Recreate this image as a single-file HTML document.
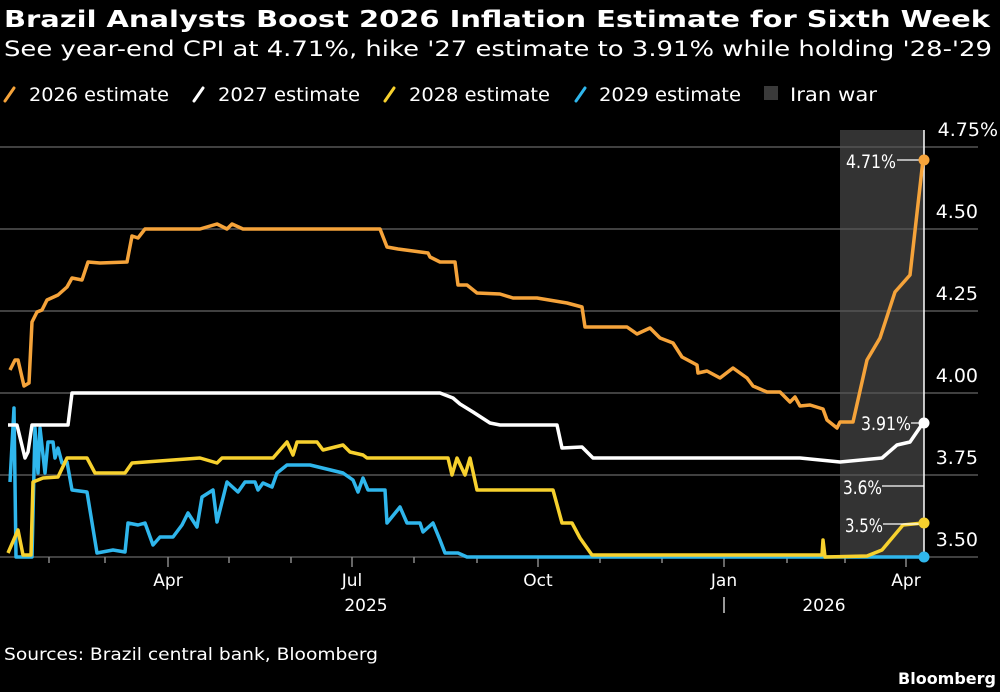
<!DOCTYPE html>
<html><head><meta charset="utf-8"><style>
html,body{margin:0;padding:0;background:#000;width:1000px;height:692px;overflow:hidden}
svg text{font-family:"DejaVu Sans","Liberation Sans",sans-serif;fill:#fff}
</style></head><body>
<svg width="1000" height="692" viewBox="0 0 1000 692" xmlns="http://www.w3.org/2000/svg">
<rect width="1000" height="692" fill="#000"/>
<text x="4" y="27" font-size="23" font-weight="bold" textLength="986" lengthAdjust="spacingAndGlyphs">Brazil Analysts Boost 2026 Inflation Estimate for Sixth Week</text>
<text x="4" y="56" font-size="21" textLength="988" lengthAdjust="spacingAndGlyphs">See year-end CPI at 4.71%, hike '27 estimate to 3.91% while holding '28-'29</text>
<g stroke-width="3" stroke-linecap="round">
<line x1="5" y1="101" x2="14" y2="88" stroke="#f5a33a"/>
<line x1="194" y1="101" x2="203" y2="88" stroke="#fff"/>
<line x1="385" y1="101" x2="394" y2="88" stroke="#f7d12e"/>
<line x1="576" y1="101" x2="585" y2="88" stroke="#2fb6ec"/>
</g>
<rect x="764" y="86" width="14" height="14" fill="#3a3a3a"/>
<g font-size="19">
<text x="29" y="101" textLength="140" lengthAdjust="spacingAndGlyphs">2026 estimate</text>
<text x="218" y="101" textLength="142" lengthAdjust="spacingAndGlyphs">2027 estimate</text>
<text x="409" y="101" textLength="141" lengthAdjust="spacingAndGlyphs">2028 estimate</text>
<text x="599" y="101" textLength="142" lengthAdjust="spacingAndGlyphs">2029 estimate</text>
<text x="790" y="101" textLength="87" lengthAdjust="spacingAndGlyphs">Iran war</text>
</g>
<rect x="840" y="130" width="84" height="427" fill="#333"/>
<g stroke="#555" stroke-width="1.5">
<line x1="0" y1="147" x2="978" y2="147"/>
<line x1="0" y1="229" x2="978" y2="229"/>
<line x1="0" y1="311" x2="978" y2="311"/>
<line x1="0" y1="393" x2="978" y2="393"/>
<line x1="0" y1="475" x2="978" y2="475"/>
<line x1="0" y1="557" x2="978" y2="557"/>
</g>
<line x1="924" y1="130" x2="924" y2="557" stroke="#fff" stroke-width="1.5"/>
<g stroke="#888" stroke-width="1.5">
<line x1="49" y1="557" x2="49" y2="563"/><line x1="105" y1="557" x2="105" y2="563"/>
<line x1="168" y1="557" x2="168" y2="567"/><line x1="229" y1="557" x2="229" y2="563"/>
<line x1="291" y1="557" x2="291" y2="563"/><line x1="352" y1="557" x2="352" y2="567"/>
<line x1="414" y1="557" x2="414" y2="563"/><line x1="477" y1="557" x2="477" y2="563"/>
<line x1="538" y1="557" x2="538" y2="567"/><line x1="600" y1="557" x2="600" y2="563"/>
<line x1="662" y1="557" x2="662" y2="563"/><line x1="724" y1="557" x2="724" y2="567"/>
<line x1="787" y1="557" x2="787" y2="563"/><line x1="845" y1="557" x2="845" y2="563"/>
<line x1="906" y1="557" x2="906" y2="567"/>
</g>
<g font-size="17" text-anchor="middle">
<text x="168" y="586">Apr</text><text x="352" y="586">Jul</text><text x="538" y="586">Oct</text>
<text x="724" y="586">Jan</text><text x="906" y="586">Apr</text>
<text x="366" y="611">2025</text><text x="824" y="611">2026</text>
</g>
<line x1="724" y1="597" x2="724" y2="613" stroke="#ccc" stroke-width="1.5"/>
<g font-size="19" text-anchor="end">
<text x="998" y="136">4.75%</text>
<text x="978" y="218">4.50</text><text x="978" y="300">4.25</text><text x="978" y="382">4.00</text>
<text x="978" y="464">3.75</text><text x="978" y="546">3.50</text>
</g>
<g fill="none" stroke-width="3.5" stroke-linejoin="round">
<polyline stroke="#2fb6ec" points="10,482 14,408 16,557 32,557 35,428 38,473 40,428 45,473 48,442 53,442 55,458 58,448 62,463 67,462 72,490 87,492 97,553 113,550 125,552 128,523 138,525 145,523 153,545 160,537 173,537 182,525 188,513 197,527 202,497 213,490 217,522 227,482 238,492 245,482 255,482 258,490 263,483 272,487 277,473 287,465 310,465 343,473 353,480 358,492 363,478 368,490 385,490 387,523 400,507 407,523 420,523 423,532 433,523 440,540 445,553 458,553 467,557 923,557"/>
<polyline stroke="#f7d12e" points="8,553 18,530 23,555 31,555 33,482 43,478 58,477 67,458 87,458 95,473 125,473 132,463 200,458 217,463 222,458 273,458 287,442 293,455 297,442 317,442 323,450 343,445 350,452 363,455 367,458 448,458 452,475 457,458 465,475 470,458 477,490 553,490 562,523 572,523 580,538 592,555 822,555 823,540 825,557 867,556 882,550 903,525 923,523"/>
<polyline stroke="#fff" points="8,425 17,425 25,458 28,452 32,425 68,425 72,393 440,393 453,398 460,404 473,412 490,423 500,425 557,425 562,448 582,447 593,458 800,458 840,462 882,458 897,445 910,442 923,423"/>
<polyline stroke="#f5a33a" points="10,370 15,360 18,360 24,386 29,383 32,322 37,312 42,310 47,300 58,295 67,287 72,278 82,280 88,262 100,263 127,262 132,236 138,238 145,229 200,229 217,224 227,229 232,224 243,229 367,229 380,229 387,247 398,249 413,251 428,253 430,257 440,262 455,262 458,285 467,285 477,293 500,294 513,298 537,298 567,303 582,307 585,327 627,327 637,334 650,328 660,338 673,343 682,357 697,365 698,373 707,371 720,378 733,368 747,378 753,386 767,392 780,392 790,402 795,397 800,406 810,405 823,409 827,420 837,428 840,422 853,422 867,360 880,338 895,292 910,275 923,160"/>
</g>
<g stroke="#fff" stroke-width="1.2">
<line x1="897" y1="160" x2="923" y2="160"/>
<line x1="911" y1="423" x2="923" y2="423"/>
<line x1="882" y1="486" x2="924" y2="486"/>
<line x1="883" y1="524" x2="923" y2="524"/>
</g>
<circle cx="924" cy="160" r="5.5" fill="#f5a33a"/>
<circle cx="924" cy="423" r="5.5" fill="#fff"/>
<circle cx="924" cy="523" r="5.5" fill="#f7d12e"/>
<circle cx="924" cy="557" r="5.5" fill="#2fb6ec"/>
<g font-size="19">
<text x="846" y="168" textLength="50" lengthAdjust="spacingAndGlyphs">4.71%</text>
<text x="861" y="430" textLength="50" lengthAdjust="spacingAndGlyphs">3.91%</text>
<text x="843" y="494" textLength="39" lengthAdjust="spacingAndGlyphs">3.6%</text>
<text x="845" y="532" textLength="38" lengthAdjust="spacingAndGlyphs">3.5%</text>
</g>
<text x="4" y="660" font-size="17" textLength="374" lengthAdjust="spacingAndGlyphs">Sources: Brazil central bank, Bloomberg</text>
<text x="996" y="684" font-size="16" font-weight="bold" text-anchor="end">Bloomberg</text>
</svg>
</body></html>
